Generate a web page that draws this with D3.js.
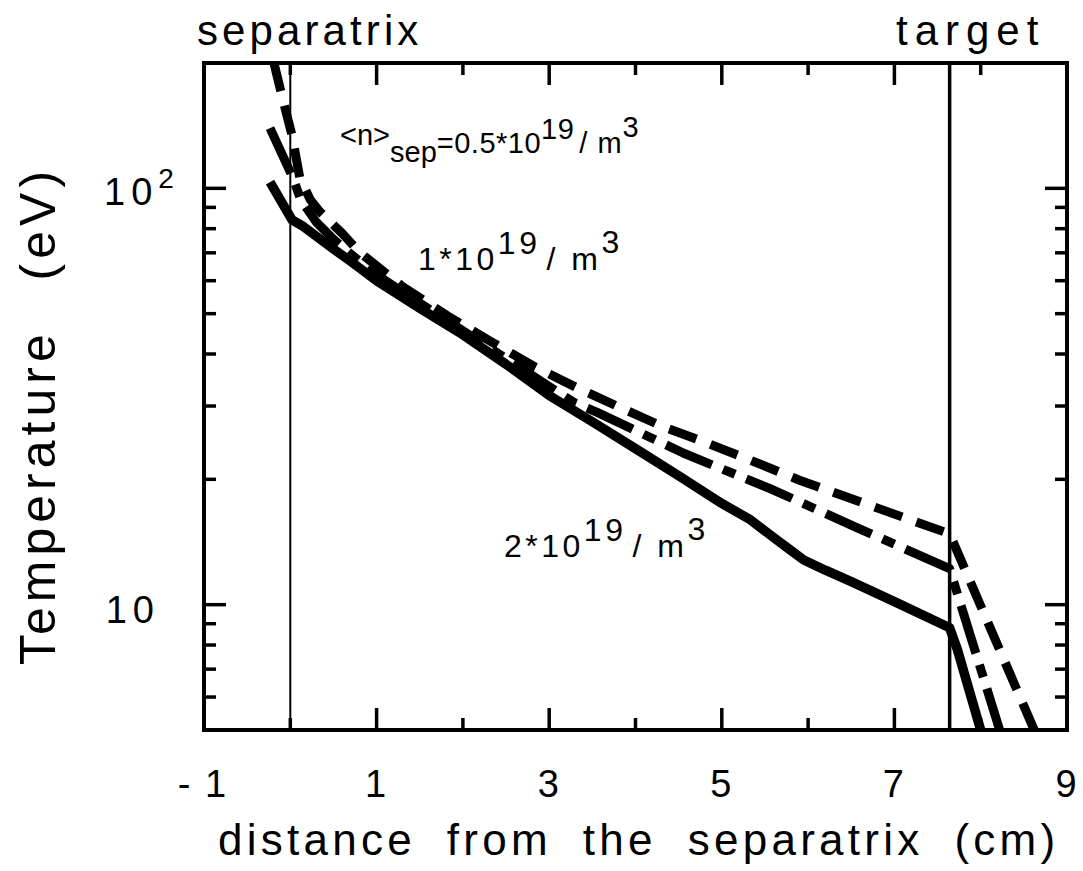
<!DOCTYPE html>
<html>
<head>
<meta charset="utf-8">
<script src="https://cdn.jsdelivr.net/npm/d3@7"></script>
<style>
  html, body { margin: 0; padding: 0; background: #ffffff; }
  svg { display: block; }
  text { font-family: "Liberation Sans", Arial, Helvetica, sans-serif; fill: #000; }
</style>
</head>
<body>
<svg id="chart" width="1083" height="871"></svg>
<script>
// Distance from the separatrix (cm) and electron temperature (eV)
// for three separatrix densities.
const xLow = [-0.19, -0.085, 0.02, 0.11, 0.23, 0.34, 0.6, 0.8, 1.29, 1.82, 2.33, 2.82, 3.32, 3.83, 4.33, 4.84, 5.34, 5.9, 7.0, 7.64, 8.62];
const tLow = [200, 163, 134, 106, 94, 88, 78, 70.3, 58.3, 49.4, 42.8, 37.4, 33.2, 29.7, 26.7, 24.4, 22.2, 19.9, 16.5, 14.8, 5.0];

const xMid = [-0.235, 0.03, 0.12, 0.3, 0.5, 0.7, 1.0, 1.5, 2.0, 2.5, 3.0, 3.3, 3.55, 4.56, 5.56, 6.57, 7.64, 8.22];
const tMid = [139.6, 106, 94, 83, 75.5, 69.5, 62, 53, 45.5, 39, 33.4, 30.5, 29.0, 23.1, 19.0, 15.3, 12.2, 5.0];

const xHigh = [-0.235, 0.02, 0.15, 0.31, 0.5, 0.69, 1.0, 1.5, 2.0, 2.5, 3.0, 3.5, 4.0, 4.5, 5.0, 5.33, 5.6, 5.8, 5.95, 6.2, 6.5, 7.0, 7.64, 7.73, 8.0];
const tHigh = [103.5, 84, 81, 76.5, 71.5, 67, 60, 51.5, 44.5, 37.8, 31.8, 27.5, 23.7, 20.4, 17.5, 16.0, 14.5, 13.5, 12.8, 12.1, 11.36, 10.17, 8.8, 7.8, 5.0];

// Axis ticks
const xMajorTicks = [-1, 1, 3, 5, 7, 9];
const xMajorLabels = ["- 1", "1", "3", "5", "7", "9"];
const xMinorTicks = [0, 2, 4, 6, 8];
const yMajorTicks = [10, 100];
const yMinorTicks = [6, 7, 8, 9, 20, 30, 40, 50, 60, 70, 80, 90];

// Reference positions
const separatrixX = 0;
const targetX = 7.64;

const svg = d3.select("#chart");
const frame = { left: 204, right: 1067, top: 63, bottom: 730 };

const x = d3.scaleLinear().domain([-1, 9]).range([frame.left, frame.right]);
const y = d3.scaleLog().domain([5, 200]).range([frame.bottom, frame.top]);

svg.append("defs").append("clipPath").attr("id", "plotClip")
  .append("rect").attr("x", frame.left).attr("y", frame.top)
  .attr("width", frame.right - frame.left).attr("height", frame.bottom - frame.top);

const plot = svg.append("g").attr("clip-path", "url(#plotClip)");

// Separatrix and target positions
plot.append("line")
  .attr("x1", x(separatrixX)).attr("x2", x(separatrixX))
  .attr("y1", frame.top).attr("y2", frame.bottom)
  .attr("stroke", "#000").attr("stroke-width", 2);
plot.append("line")
  .attr("x1", x(targetX)).attr("x2", x(targetX))
  .attr("y1", frame.top).attr("y2", frame.bottom)
  .attr("stroke", "#000").attr("stroke-width", 3.5);

// Profiles
const line = d3.line().x(d => x(d[0])).y(d => y(d[1]));
const series = [
  { xs: xLow, ts: tLow, dash: "29,15", width: 9 },
  { xs: xMid, ts: tMid, dash: "50,12,13,12", width: 9 },
  { xs: xHigh, ts: tHigh, dash: null, width: 9.5 }
];
series.forEach(s => {
  const pts = s.xs.map((v, i) => [v, s.ts[i]]);
  plot.append("path")
    .attr("d", line(pts))
    .attr("fill", "none")
    .attr("stroke", "#000")
    .attr("stroke-width", s.width)
    .attr("stroke-linejoin", "round")
    .attr("stroke-dasharray", s.dash);
});

// Axes: ticks point inward on all four sides
const axisG = svg.append("g");
const tickStroke = 3.5;
function xTick(v, len) {
  axisG.append("line").attr("x1", x(v)).attr("x2", x(v))
    .attr("y1", frame.bottom).attr("y2", frame.bottom - len)
    .attr("stroke", "#000").attr("stroke-width", tickStroke);
  axisG.append("line").attr("x1", x(v)).attr("x2", x(v))
    .attr("y1", frame.top).attr("y2", frame.top + len)
    .attr("stroke", "#000").attr("stroke-width", tickStroke);
}
function yTick(v, len) {
  axisG.append("line").attr("x1", frame.left).attr("x2", frame.left + len)
    .attr("y1", y(v)).attr("y2", y(v))
    .attr("stroke", "#000").attr("stroke-width", tickStroke);
  axisG.append("line").attr("x1", frame.right).attr("x2", frame.right - len)
    .attr("y1", y(v)).attr("y2", y(v))
    .attr("stroke", "#000").attr("stroke-width", tickStroke);
}
xMajorTicks.forEach(v => xTick(v, 22));
xMinorTicks.forEach(v => xTick(v, 12));
yMajorTicks.forEach(v => yTick(v, 22));
yMinorTicks.forEach(v => yTick(v, 12));

// Frame
svg.append("rect")
  .attr("x", frame.left).attr("y", frame.top)
  .attr("width", frame.right - frame.left).attr("height", frame.bottom - frame.top)
  .attr("fill", "none").attr("stroke", "#000").attr("stroke-width", 4);

// X tick labels
svg.append("g").selectAll("text")
  .data(xMajorTicks)
  .join("text")
  .attr("x", d => x(d) + (d === -1 ? -1 : 0))
  .attr("y", 797)
  .attr("text-anchor", "middle")
  .attr("font-size", 38)
  .style("letter-spacing", "2px")
  .text((d, i) => xMajorLabels[i]);

// Y tick labels
svg.append("text").attr("x", 160).attr("y", y(10) + 18)
  .attr("text-anchor", "end").attr("font-size", 38)
  .style("letter-spacing", "6px").text("10");
const yl2 = svg.append("text").attr("x", 104).attr("y", y(100) + 17)
  .attr("font-size", 38);
yl2.append("tspan").style("letter-spacing", "6px").text("10");
yl2.append("tspan").attr("dy", -17).attr("font-size", 28).text("2");

// Axis titles
svg.append("text")
  .attr("x", 218).attr("y", 855)
  .attr("font-size", 44)
  .style("letter-spacing", "4.25px")
  .style("word-spacing", "14.5px")
  .text("distance from the separatrix (cm)");

svg.append("text")
  .attr("transform", "translate(55,665) rotate(-90)")
  .attr("font-size", 50)
  .style("letter-spacing", "5px")
  .style("word-spacing", "30px")
  .text("Temperature (eV)");

// Position labels above the frame
svg.append("text").attr("x", 197).attr("y", 45)
  .attr("font-size", 42).style("letter-spacing", "4.1px").text("separatrix");
svg.append("text").attr("x", 896).attr("y", 45)
  .attr("font-size", 42).style("letter-spacing", "7px").text("target");

// Density annotations
function powerLabel(px, py, mantissa, fs) {
  const t = svg.append("text").attr("x", px).attr("y", py)
    .attr("font-size", fs).style("letter-spacing", "3.5px");
  t.append("tspan").text(mantissa);
  t.append("tspan").attr("dy", -16).text("19");
  t.append("tspan").attr("dx", 6).attr("dy", 16).text("/ m");
  t.append("tspan").attr("dy", -17).text("3");
  return t;
}

const a1 = svg.append("text").attr("x", 340).attr("y", 145)
  .attr("font-size", 29);
a1.append("tspan").text("<n>");
a1.append("tspan").attr("dy", 17).text("sep");
a1.append("tspan").attr("dy", -9).style("letter-spacing", "0.5px").text("=0.5*10");
a1.append("tspan").attr("dy", -14).style("letter-spacing", "0.5px").text("19");
a1.append("tspan").attr("dx", 5).attr("dy", 14).style("letter-spacing", "1px").text("/ m");
a1.append("tspan").attr("dy", -16).text("3");

powerLabel(418, 270, "1*10", 32);
powerLabel(504, 557, "2*10", 32);
</script>
</body>
</html>
